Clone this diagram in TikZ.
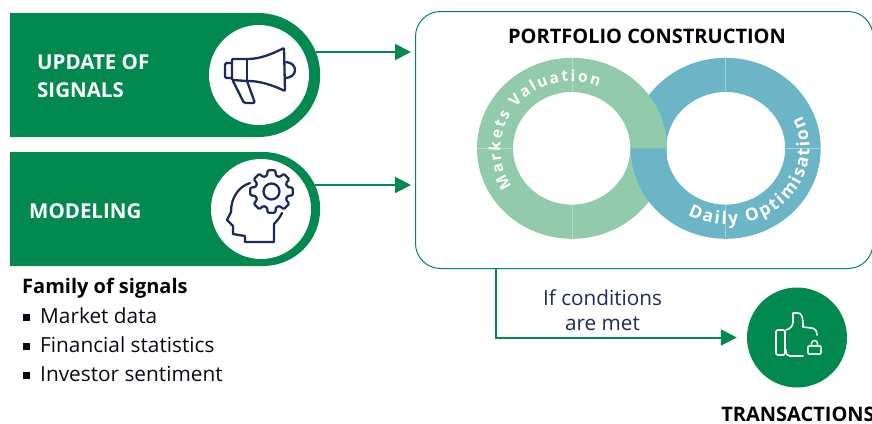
\documentclass[tikz,border=0pt]{standalone}
\usepackage{fontspec}
\setmainfont{Open Sans}
\usetikzlibrary{arrows.meta,calc,positioning,shapes.misc,decorations.text}
\definecolor{bankgreen}{HTML}{02894F}
\definecolor{ringgreen}{HTML}{91CBAB}
\definecolor{ringblue}{HTML}{6BB5C7}
\definecolor{iconnavy}{HTML}{1F2A5C}
\definecolor{seamgreen}{HTML}{B4DCC6}
\definecolor{seamblue}{HTML}{9FD0DC}
\tikzset{
	banner/.style={fill=bankgreen, rounded rectangle, rounded rectangle left arc=none, minimum width=310pt, inner sep=0pt, anchor=west},
	disc/.style={circle, fill=white, minimum size=100pt, inner sep=0pt},
	bannertext/.style={text=white, font=\fontsize{20.5}{28}\selectfont\bfseries, align=left, anchor=west, inner sep=0pt},
	heading/.style={text=black!90!iconnavy, font=\fontsize{20}{25}\selectfont\bfseries, inner sep=0pt},
	listitem/.style={text=black!75!iconnavy, font=\fontsize{20.8}{25}\selectfont, anchor=west, inner sep=0pt},
	flow/.style={draw=bankgreen, line width=2pt, -{Triangle[length=16pt,width=16pt]}},
	iconline/.style={draw=iconnavy, line width=2.3pt, line join=round, line cap=round},
	thumbline/.style={draw=white, line width=1.6pt, line join=round, line cap=round},
	ringtext/.style={decorate, decoration={text along path, text align=fit to path, text color=white, text={#1}}}
}
\newcommand{\squarebullet}{\hspace{1pt}\rule[2pt]{7pt}{7pt}\hspace{10pt}}
\begin{document}
\begin{tikzpicture}[x=1pt,y=-1pt]
	\useasboundingbox (0,0) rectangle (872,423);
	\clip (0,0) rectangle (872,423);
	% left column
	\node[banner, minimum height=124pt] (update) at (10,75) {};
	\node[banner, minimum height=114pt] (modeling) at (10,209) {};
	\node[disc] (updatedisc) at (259,75) {};
	\node[disc] (modelingdisc) at (261,209) {};
	\node[bannertext] (updatetext) at (37,76) {UPDATE OF\\SIGNALS};
	\node[bannertext] (modelingtext) at (29,211) {MODELING};
	% portfolio box
	\node[draw=bankgreen, line width=1pt, rounded corners=25pt, minimum width=457.5pt, minimum height=257pt, inner sep=0pt, anchor=north west] (portfolio) at (415,11) {};
	\node[heading] (portfoliotitle) at (647,36) {PORTFOLIO CONSTRUCTION};
	% rings
	\fill[ringgreen] (667,148.3) arc[start angle=0, end angle=180, x radius=95, y radius=90.5] -- (513,148.3) arc[start angle=180, end angle=0, x radius=58.7, y radius=56.3] -- cycle;
	\fill[ringblue, even odd rule] (725.7,148.3) ellipse[x radius=95, y radius=90.5] (725.7,148.3) ellipse[x radius=59.5, y radius=56.3];
	\fill[ringgreen] (477,148.3) arc[start angle=180, end angle=360, x radius=95, y radius=90.5] -- (630.4,148.3) arc[start angle=360, end angle=180, x radius=58.7, y radius=56.3] -- cycle;
	\draw[seamgreen, line width=0.5pt] (572,58) -- (572,92) (477,148.3) -- (513,148.3) (572,205) -- (572,239);
	\draw[seamblue, line width=0.5pt] (725.7,58) -- (725.7,92) (785,148.3) -- (821,148.3) (725.7,205) -- (725.7,239);
	\path[ringtext={|\fontsize{15.5}{16}\selectfont\bfseries|Markets Valuation}] (572,148.3) ++(-60,38) arc[start angle=-213, end angle=-68, x radius=71.5, y radius=68];
	\path[ringtext={|\fontsize{17.5}{18}\selectfont\bfseries|Daily Optimisation}] (725.7,148.3) ++(-38,66.5) arc[start angle=119, end angle=-25, x radius=82, y radius=76];
	% connectors
	\coordinate (updateout) at (316,52);
	\coordinate (modelingout) at (315,185);
	\coordinate (conditionout) at (496,268);
	\draw[flow, shorten >=4pt] (updateout) -- (updateout -| portfolio.west);
	\draw[flow, shorten >=4pt] (modelingout) -- (modelingout -| portfolio.west);
	\node[disc, fill=bankgreen] (deals) at (797,337.5) {};
	\draw[flow, shorten >=10pt] (conditionout) |- (deals);
	\node[text=iconnavy, font=\fontsize{20.7}{25}\selectfont, align=center, inner sep=0pt] (conditions) at (602.5,310.5) {If conditions\\are met};
	\node[heading, below=19pt of deals, xshift=1pt] (dealstext) {TRANSACTIONS};
	% family of signals
	\node[heading, anchor=west] (family) at (22,288) {Family of signals};
	\node[listitem] (marketdata) at (22,315.5) {\squarebullet Market data};
	\node[listitem] (statistics) at (22,344.5) {\squarebullet Financial statistics};
	\node[listitem] (sentiment) at (22,373.5) {\squarebullet Investor sentiment};
	% megaphone
	\draw[iconline, rounded corners=1.5pt] (232,63) -- (225,63) -- (225,78) -- (232,78);
	\draw[iconline, rounded corners=1pt] (232,59) -- (247,59) .. controls (260,59) and (272,54) .. (284,48) -- (285,91) .. controls (272,85) and (260,81) .. (247,81) -- (232,80) -- cycle;
	\draw[iconline] (247,59) -- (247,81);
	\draw[iconline] (286,62) .. controls (298,63) and (298,77) .. (286,78);
	\draw[iconline, rounded corners=1.5pt] (233,81) -- (244,103) -- (255,103) -- (247,81);
	% head with gear
	\draw[iconline] (250,183) .. controls (238,187) and (231,198) .. (231,212) -- (227,220) -- (233,226) -- (233,234) -- (245,236) -- (245,242) -- (274,242) -- (274,224) .. controls (278,220) and (280,217) .. (282,213);
	\begin{scope}[shift={(271.5,191.5)}]
		\draw[iconline, rounded corners=1pt] (-16:16.5) \foreach \a in {0,45,...,315} {-- (\a-16:16.5) -- (\a-10:21.5) -- (\a+10:21.5) -- (\a+16:16.5)} -- cycle;
		\draw[iconline] (0,0) circle[radius=8];
	\end{scope}
	% thumb with lock
	\draw[thumbline, rounded corners=1.5pt] (776,330) rectangle (785,355);
	\draw[thumbline] (786,330) .. controls (790,329) and (793,326) .. (793,322) -- (793,313) -- (798,313) .. controls (802,313) and (803,318) .. (803,327) -- (811,328) .. controls (815,328) and (817,331) .. (817,335);
	\draw[thumbline] (786,350) .. controls (786,354) and (787,356) .. (790,356) -- (803,356);
	\draw[thumbline, draw=white!85!bankgreen, rounded corners=0.8pt] (808,346) rectangle (821,354);
	\draw[thumbline, draw=white!85!bankgreen] (811.5,346) -- (811.5,343.5) .. controls (811.5,339.5) and (817.5,339.5) .. (817.5,343.5) -- (817.5,346);
\end{tikzpicture}
\end{document}
